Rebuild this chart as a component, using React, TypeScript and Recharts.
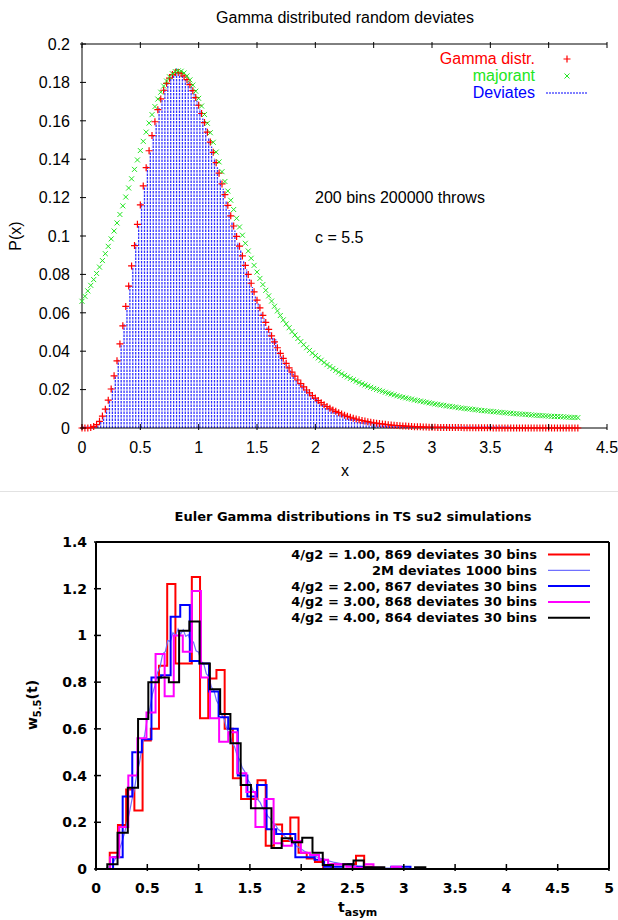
import React from 'react';
import { ComposedChart, LineChart, Line, Bar, Scatter, XAxis, YAxis } from 'recharts';

// ---------- top panel: 200 bins, 200000 throws, c = 5.5 ----------
const GRID_STEP = 0.025;

// Gamma distr. (red +), one value per grid point from x = 0 to 4.25
const GAMMA_P = [
  0, 0, 0, 0.0002, 0.0008, 0.0018, 0.0035, 0.0062, 0.0098, 0.0145,
  0.0203, 0.0272, 0.035, 0.0438, 0.0532, 0.0633, 0.0739, 0.0844, 0.095, 0.1061,
  0.1162, 0.1261, 0.1356, 0.1444, 0.1523, 0.1595, 0.1658, 0.1714, 0.1759, 0.1795,
  0.1822, 0.1841, 0.1851, 0.1852, 0.1847, 0.1834, 0.1814, 0.1788, 0.1757, 0.1721,
  0.1681, 0.1638, 0.1591, 0.1541, 0.1489, 0.1436, 0.1382, 0.1327, 0.1271, 0.1215,
  0.116, 0.1105, 0.1052, 0.0998, 0.0947, 0.0896, 0.0847, 0.08, 0.0754, 0.0709,
  0.0666, 0.0626, 0.0587, 0.055, 0.0514, 0.048, 0.0449, 0.0418, 0.0389, 0.0363,
  0.0337, 0.0313, 0.0291, 0.027, 0.025, 0.0231, 0.0214, 0.0198, 0.0183, 0.0169,
  0.0156, 0.0143, 0.0132, 0.0121, 0.0112, 0.0103, 0.0094, 0.0087, 0.008, 0.0073,
  0.0067, 0.0061, 0.0056, 0.0051, 0.0047, 0.0043, 0.0039, 0.0036, 0.0033, 0.003,
  0.0027, 0.0025, 0.0023, 0.0021, 0.0019, 0.0017, 0.0015, 0.0014, 0.0013, 0.0012,
  0.0011, 0.001, 0.0009, 0.0008, 0.0007, 0.0006, 0.0006, 0.0005, 0.0005, 0.0004,
  0.0004, 0.0004, 0.0003, 0.0003, 0.0003, 0.0003, 0.0002, 0.0002, 0.0002, 0.0002,
  0.0002, 0.0001, 0.0001, 0.0001, 0.0001, 0.0001, 0.0001, 0.0001, 0.0001, 0.0001,
  0.0001, 0, 0, 0, 0, 0, 0, 0, 0, 0,
  0, 0, 0, 0, 0, 0, 0, 0, 0, 0,
  0, 0, 0, 0, 0, 0, 0, 0, 0, 0,
  0,
];

// majorant (green x), same grid
const MAJORANT_P = [
  0.066, 0.0686, 0.0714, 0.0743, 0.0773, 0.0805, 0.0838, 0.0872, 0.0908, 0.0946,
  0.0985, 0.1026, 0.1068, 0.1112, 0.1157, 0.1203, 0.125, 0.1298, 0.1347, 0.1396,
  0.1445, 0.1493, 0.1541, 0.1588, 0.1632, 0.1674, 0.1713, 0.1749, 0.1781, 0.1807,
  0.1829, 0.1845, 0.1856, 0.186, 0.1858, 0.1849, 0.1834, 0.1813, 0.1786, 0.1754,
  0.1717, 0.1677, 0.1633, 0.1587, 0.1538, 0.1488, 0.1437, 0.1386, 0.1335, 0.1284,
  0.1234, 0.1186, 0.1138, 0.1092, 0.1047, 0.1004, 0.0962, 0.0922, 0.0884, 0.0847,
  0.0812, 0.0779, 0.0747, 0.0717, 0.0688, 0.0661, 0.0634, 0.061, 0.0586, 0.0563,
  0.0542, 0.0522, 0.0502, 0.0484, 0.0466, 0.045, 0.0434, 0.0418, 0.0404, 0.039,
  0.0377, 0.0365, 0.0353, 0.0341, 0.033, 0.032, 0.031, 0.03, 0.0291, 0.0282,
  0.0274, 0.0266, 0.0258, 0.0251, 0.0244, 0.0237, 0.023, 0.0224, 0.0218, 0.0212,
  0.0206, 0.0201, 0.0196, 0.0191, 0.0186, 0.0181, 0.0177, 0.0173, 0.0168, 0.0164,
  0.016, 0.0157, 0.0153, 0.015, 0.0146, 0.0143, 0.014, 0.0137, 0.0134, 0.0131,
  0.0128, 0.0125, 0.0123, 0.012, 0.0118, 0.0115, 0.0113, 0.0111, 0.0109, 0.0106,
  0.0104, 0.0102, 0.01, 0.0099, 0.0097, 0.0095, 0.0093, 0.0091, 0.009, 0.0088,
  0.0087, 0.0085, 0.0084, 0.0082, 0.0081, 0.0079, 0.0078, 0.0077, 0.0075, 0.0074,
  0.0073, 0.0072, 0.0071, 0.007, 0.0068, 0.0067, 0.0066, 0.0065, 0.0064, 0.0063,
  0.0062, 0.0061, 0.006, 0.006, 0.0059, 0.0058, 0.0057, 0.0056, 0.0055, 0.0055,
  0.0054,
];

// Deviates (blue impulses), bins sit half a step right of the grid, up to x ~ 3.66
const DEVIATES_P = [
  0.0001, 0.0001, 0.0002, 0.0004, 0.0009, 0.0019, 0.0037, 0.006, 0.0101, 0.0142,
  0.0208, 0.0268, 0.0356, 0.0431, 0.0541, 0.0627, 0.0746, 0.0836, 0.0961, 0.1052,
  0.117, 0.1255, 0.1364, 0.1436, 0.1531, 0.1589, 0.1667, 0.1708, 0.1766, 0.179,
  0.183, 0.1838, 0.1876, 0.1849, 0.1843, 0.1829, 0.1806, 0.1779, 0.1742, 0.1705,
  0.1662, 0.1612, 0.1568, 0.1512, 0.1466, 0.1405, 0.1358, 0.1296, 0.1246, 0.1185,
  0.1136, 0.1075, 0.1029, 0.0968, 0.0925, 0.0868, 0.0826, 0.0775, 0.0734, 0.0685,
  0.0649, 0.0603, 0.0572, 0.0529, 0.05, 0.0474, 0.0462, 0.0401, 0.0372, 0.0348,
  0.0322, 0.03, 0.0282, 0.0258, 0.0238, 0.0224, 0.0204, 0.0192, 0.0175, 0.0161,
  0.0152, 0.0136, 0.0125, 0.0118, 0.0106, 0.0099, 0.0089, 0.0085, 0.0076, 0.0071,
  0.0063, 0.006, 0.0052, 0.005, 0.0044, 0.0042, 0.0037, 0.0035, 0.0031, 0.0029,
  0.0026, 0.0024, 0.0022, 0.002, 0.0018, 0.0016, 0.0015, 0.0013, 0.0012, 0.0012,
  0.001, 0.001, 0.0008, 0.0008, 0.0007, 0.0006, 0.0006, 0.0005, 0.0004, 0.0004,
  0.0004, 0.0003, 0.0003, 0.0003, 0.0003, 0.0002, 0.0002, 0.0002, 0.0002, 0.0002,
  0.0002, 0.0001, 0.0001, 0.0001, 0.0001, 0.0001, 0.0001, 0.0001, 0.0001, 0.0001,
  0.0001, 0.0001, 0.0001, 0.0001, 0.0001, 0.0001, 0.0001,
];

const TOP_X_TICKS = [0, 0.5, 1, 1.5, 2, 2.5, 3, 3.5, 4, 4.5];
const TOP_Y_TICKS = [0, 0.02, 0.04, 0.06, 0.08, 0.1, 0.12, 0.14, 0.16, 0.18, 0.2];

// ---------- bottom panel: 30-bin histograms, drawn as steps ----------
const W2M_START = 0.1; // 2M deviates 1000 bins, sampled on GRID_STEP
const W2M = [
  0.004, 0.01, 0.019, 0.034, 0.054, 0.079, 0.112, 0.149, 0.192, 0.24,
  0.296, 0.343, 0.41, 0.458, 0.527, 0.575, 0.644, 0.686, 0.749, 0.786,
  0.842, 0.866, 0.921, 0.93, 0.978, 0.975, 1.012, 0.999, 1.028, 1.006,
  1.024, 0.996, 1.003, 0.968, 0.972, 0.934, 0.928, 0.889, 0.879, 0.836,
  0.823, 0.779, 0.764, 0.72, 0.702, 0.66, 0.641, 0.599, 0.581, 0.542,
  0.524, 0.487, 0.468, 0.434, 0.417, 0.385, 0.369, 0.34, 0.325, 0.298,
  0.285, 0.26, 0.249, 0.226, 0.216, 0.196, 0.188, 0.17, 0.162, 0.146,
  0.137, 0.127, 0.117, 0.109, 0.1, 0.093, 0.086, 0.078, 0.072, 0.066,
  0.061, 0.056, 0.052, 0.048, 0.044, 0.04, 0.037, 0.034, 0.031, 0.028,
  0.026, 0.024, 0.022, 0.02, 0.018, 0.016, 0.015, 0.014, 0.012, 0.011,
  0.01, 0.009, 0.008, 0.008, 0.007, 0.006, 0.006, 0.005, 0.005, 0.004,
  0.004, 0.004, 0.003, 0.003, 0.003, 0.002, 0.002,
];

const RED_START = 0.134;
const RED_WIDTH = 0.08;
const RED_BINS = [
  0.07, 0.188, 0.34, 0.25, 0.55, 0.6, 0.87, 1.22, 0.88, 0.88, 1.25, 0.645, 0.816, 0.852, 0.6, 0.388,
  0.3, 0.3, 0.38, 0.1, 0.19, 0.12, 0.22, 0.07, 0.045, 0.03, 0, 0.02, 0.02, 0.02, 0.057, 0.01,
];

const BLUE_START = 0.1665;
const BLUE_WIDTH = 0.0935;
const BLUE_BINS = [
  0.05, 0.31, 0.5, 0.555, 0.82, 0.83, 1.08, 1.13, 0.89, 0.88, 0.76, 0.65, 0.6, 0.4, 0.31, 0.36,
  0.17, 0.15, 0.15, 0.05, 0.05, 0.04, 0.01, 0.01, 0.02, 0.01, 0.005, 0, 0, 0.01, 0.01,
];

const MAGENTA_START = 0.138;
const MAGENTA_WIDTH = 0.0885;
const MAGENTA_BINS = [
  0.05, 0.18, 0.4, 0.56, 0.67, 0.92, 0.74, 1.0, 0.93, 1.19, 0.82, 0.645, 0.545, 0.585, 0.41, 0.33,
  0.18, 0.3, 0.11, 0.1, 0.12, 0.07, 0.06, 0.04, 0.02, 0.02, 0.01, 0.005, 0.02, 0.005, 0, 0.01,
];

const BLACK_START = 0.11;
const BLACK_WIDTH = 0.1;
const BLACK_BINS = [
  0.02, 0.155, 0.348, 0.642, 0.8, 0.82, 0.8, 1.02, 1.06, 0.88, 0.77, 0.664, 0.538, 0.36, 0.26, 0.26,
  0.09, 0.132, 0.114, 0.134, 0.07, 0.017, 0, 0.02, 0.036, 0.007, 0.007, 0, 0, 0, 0.007,
];

const BOTTOM_X_TICKS = [0, 0.5, 1, 1.5, 2, 2.5, 3, 3.5, 4, 4.5, 5];
const BOTTOM_Y_TICKS = [0, 0.2, 0.4, 0.6, 0.8, 1, 1.2, 1.4];

// ---------- building the series ----------
const gammaData = GAMMA_P.map((y, i) => ({ x: i * GRID_STEP, y }));
const majorantData = MAJORANT_P.map((y, i) => ({ x: i * GRID_STEP, y }));
const deviatesData = DEVIATES_P.map((y, i) => ({ x: GRID_STEP / 2 + i * GRID_STEP, y }));
const w2mData = W2M.map((y, i) => ({ x: W2M_START + i * GRID_STEP, y }));

const toSteps = (start: number, width: number, bins: number[]) => [
  { x: start, y: 0 },
  ...bins.map((y, k) => ({ x: start + k * width, y })),
  { x: start + bins.length * width, y: 0 },
];

const HIST_SERIES = [
  { name: '4/g2 = 1.00, 869 deviates 30 bins', color: '#ff0000', w: 2, data: toSteps(RED_START, RED_WIDTH, RED_BINS), step: true },
  { name: '2M deviates 1000 bins', color: '#7070ff', w: 1.2, data: w2mData, step: false },
  { name: '4/g2 = 2.00, 867 deviates 30 bins', color: '#0000ff', w: 2, data: toSteps(BLUE_START, BLUE_WIDTH, BLUE_BINS), step: true },
  { name: '4/g2 = 3.00, 868 deviates 30 bins', color: '#ff00ff', w: 2, data: toSteps(MAGENTA_START, MAGENTA_WIDTH, MAGENTA_BINS), step: true },
  { name: '4/g2 = 4.00, 864 deviates 30 bins', color: '#000000', w: 2, data: toSteps(BLACK_START, BLACK_WIDTH, BLACK_BINS), step: true },
];

const TOP_FONT = '"Liberation Sans", Arial, sans-serif';
const BOT_FONT = '"DejaVu Sans", sans-serif';
const RED = '#ff0000';
const GREEN = '#22e622';
const BLUE = '#0000ff';

const fmt = (v: number) => String(Math.round(v * 100) / 100);

// ticks drawn inward, gnuplot style (tickSize 0 puts x/y right on the axis)
const tickX = (len: number, sw: number, dir: 1 | -1, label: null | { gap: number; font: string; size: number; weight: string }) =>
  (p: any) => (
    <g>
      <line x1={p.x} x2={p.x} y1={p.y} y2={p.y + dir * len} stroke="#000" strokeWidth={sw} />
      {label && (
        <text x={p.x} y={p.y + label.gap} textAnchor="middle" fontFamily={label.font} fontSize={label.size} fontWeight={label.weight} fill="#000">
          {fmt(p.payload.value)}
        </text>
      )}
    </g>
  );

const tickY = (len: number, sw: number, dir: 1 | -1, label: null | { gap: number; font: string; size: number; weight: string }) =>
  (p: any) => (
    <g>
      <line x1={p.x} x2={p.x + dir * len} y1={p.y} y2={p.y} stroke="#000" strokeWidth={sw} />
      {label && (
        <text x={p.x - label.gap} y={p.y} dy="0.36em" textAnchor="end" fontFamily={label.font} fontSize={label.size} fontWeight={label.weight} fill="#000">
          {fmt(p.payload.value)}
        </text>
      )}
    </g>
  );

const PlusMark = (p: any) =>
  p.cx == null ? null : (
    <path d={`M${p.cx - 3.5},${p.cy}h7M${p.cx},${p.cy - 3.5}v7`} stroke={RED} strokeWidth={1.2} fill="none" />
  );

const CrossMark = (p: any) =>
  p.cx == null ? null : (
    <path d={`M${p.cx - 2.5},${p.cy - 2.5}l5,5M${p.cx - 2.5},${p.cy + 2.5}l5,-5`} stroke={GREEN} strokeWidth={1} fill="none" />
  );

const Impulse = (p: any) => {
  if (p.x == null) return null;
  const cx = p.x + p.width / 2;
  const base = p.y + p.height;
  const h = Math.max(p.height, 1.5);
  return <line x1={cx} x2={cx} y1={base} y2={base - h} stroke={BLUE} strokeOpacity={0.8} strokeWidth={1.3} strokeDasharray="2.4 1.1" />;
};

const TOP_LEGEND = [
  { name: 'Gamma distr.', color: RED, mark: 'plus' },
  { name: 'majorant', color: GREEN, mark: 'cross' },
  { name: 'Deviates', color: BLUE, mark: 'dots' },
];

const topLabel = { gap: 23, font: TOP_FONT, size: 16, weight: 'normal' };
const topYLabel = { gap: 10, font: TOP_FONT, size: 16, weight: 'normal' };
const botLabel = { gap: 22, font: BOT_FONT, size: 14, weight: 'bold' };
const botYLabel = { gap: 7, font: BOT_FONT, size: 14, weight: 'bold' };

export default function App() {
  return (
    <div style={{ position: 'absolute', left: 0, top: 0, width: 618, height: 920, background: '#fff' }}>
      <div style={{ position: 'absolute', left: 0, top: 0 }}>
        <ComposedChart width={618} height={490} data={deviatesData} margin={{ top: 43, right: 10, bottom: 0, left: 0 }}>
          <XAxis type="number" dataKey="x" domain={[0, 4.5]} ticks={TOP_X_TICKS} interval={0} height={62}
            tickSize={0} tickLine={false} axisLine={{ stroke: '#000', strokeWidth: 1 }} tick={tickX(6, 1, -1, topLabel)} />
          <XAxis xAxisId="top" orientation="top" type="number" dataKey="x" domain={[0, 4.5]} ticks={TOP_X_TICKS} interval={0} height={1}
            tickSize={0} tickLine={false} axisLine={{ stroke: '#000', strokeWidth: 1 }} tick={tickX(6, 1, 1, null)} />
          <YAxis type="number" dataKey="y" domain={[0, 0.2]} ticks={TOP_Y_TICKS} interval={0} width={82}
            tickSize={0} tickLine={false} axisLine={{ stroke: '#000', strokeWidth: 1 }} tick={tickY(6, 1, 1, topYLabel)} />
          <YAxis yAxisId="right" orientation="right" type="number" domain={[0, 0.2]} ticks={TOP_Y_TICKS} interval={0} width={1}
            tickSize={0} tickLine={false} axisLine={false} tick={tickY(6, 1, -1, null)} />
          <Scatter name="Gamma distr." data={gammaData} dataKey="y" shape={PlusMark} isAnimationActive={false} />
          <Scatter name="majorant" data={majorantData} dataKey="y" shape={CrossMark} isAnimationActive={false} />
          <Bar name="Deviates" dataKey="y" barSize={1} shape={Impulse} isAnimationActive={false} />
        </ComposedChart>
      </div>

      <div style={{ position: 'absolute', left: 0, top: 490 }}>
        <LineChart width={618} height={430} margin={{ top: 51, right: 8, bottom: 0, left: 0 }}>
          <XAxis type="number" dataKey="x" domain={[0, 5]} ticks={BOTTOM_X_TICKS} interval={0} height={51}
            tickSize={0} tickLine={false} axisLine={{ stroke: '#000', strokeWidth: 2 }} tick={tickX(7, 1.5, -1, botLabel)} />
          <XAxis xAxisId="top" orientation="top" type="number" dataKey="x" domain={[0, 5]} ticks={BOTTOM_X_TICKS} interval={0} height={1}
            tickSize={0} tickLine={false} axisLine={{ stroke: '#000', strokeWidth: 2 }} tick={tickX(7, 1.5, 1, null)} />
          <YAxis type="number" dataKey="y" domain={[0, 1.4]} ticks={BOTTOM_Y_TICKS} interval={0} width={96}
            tickSize={0} tickLine={false} axisLine={{ stroke: '#000', strokeWidth: 2 }} tick={tickY(7, 1.5, 1, botYLabel)} />
          <YAxis yAxisId="right" orientation="right" type="number" domain={[0, 1.4]} ticks={BOTTOM_Y_TICKS} interval={0} width={1}
            tickSize={0} tickLine={false} axisLine={{ stroke: '#000', strokeWidth: 2 }} tick={tickY(7, 1.5, -1, null)} />
          {HIST_SERIES.map((s) => (
            <Line key={s.name} name={s.name} data={s.data} dataKey="y" type={s.step ? 'stepAfter' : 'linear'}
              stroke={s.color} strokeWidth={s.w} dot={false} activeDot={false} isAnimationActive={false} />
          ))}
        </LineChart>
      </div>

      <svg width={618} height={920} style={{ position: 'absolute', left: 0, top: 0, pointerEvents: 'none' }}>
        {/* top panel texts */}
        <g fontFamily={TOP_FONT} fontSize={16} fill="#000">
          <text x={345} y={23} textAnchor="middle">Gamma distributed random deviates</text>
          <text transform="translate(21,236) rotate(-90)" textAnchor="middle">P(x)</text>
          <text x={345} y={476} textAnchor="middle">x</text>
          <text x={315} y={203}>200 bins 200000 throws</text>
          <text x={315} y={243}>c = 5.5</text>
          {TOP_LEGEND.map((l, i) => {
            const base = 64 + i * 17;
            const cy = base - 5;
            return (
              <g key={l.name}>
                <text x={535} y={base} textAnchor="end" fill={l.color}>{l.name}</text>
                {l.mark === 'plus' && <PlusMark cx={567} cy={cy} />}
                {l.mark === 'cross' && <CrossMark cx={567} cy={cy} />}
                {l.mark === 'dots' && <line x1={546} x2={588} y1={cy} y2={cy} stroke={l.color} strokeWidth={1} strokeDasharray="2 1" />}
              </g>
            );
          })}
        </g>

        <line x1={0} x2={618} y1={491.5} y2={491.5} stroke="#e2e2e2" strokeWidth={1} />

        {/* bottom panel texts */}
        <g fontFamily={BOT_FONT} fontWeight="bold" fill="#000">
          <text x={353} y={521} textAnchor="middle" fontSize={13}>Euler Gamma distributions in TS su2 simulations</text>
          <text transform="translate(37,705) rotate(-90)" textAnchor="middle" fontSize={14}>
            w<tspan dy={4} fontSize={10}>5.5</tspan><tspan dy={-4}>(t)</tspan>
          </text>
          <text x={338} y={912} fontSize={14}>
            t<tspan dy={4} fontSize={11}>asym</tspan>
          </text>
          {HIST_SERIES.map((s, i) => {
            const base = 559 + i * 15.8;
            return (
              <g key={s.name}>
                <text x={537} y={base} textAnchor="end" fontSize={13}>{s.name}</text>
                <line x1={548} x2={590} y1={base - 4.5} y2={base - 4.5} stroke={s.color} strokeWidth={s.w} />
              </g>
            );
          })}
        </g>
      </svg>
    </div>
  );
}
